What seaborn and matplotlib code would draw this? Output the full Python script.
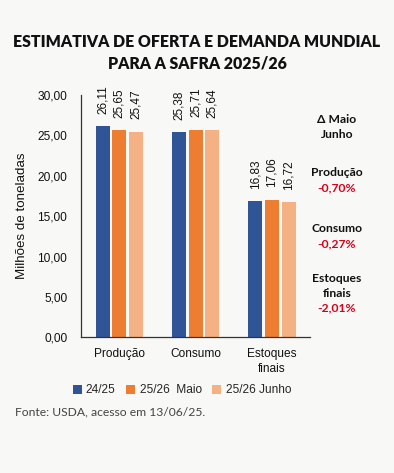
import pandas as pd
import matplotlib
matplotlib.use('Agg')
import matplotlib.pyplot as plt
import seaborn as sns

# dados (milhões de toneladas)
categorias = ['Produção', 'Consumo', 'Estoques\nfinais']
series = ['24/25', '25/26  Maio', '25/26 Junho']
v_2425 = [26.11, 25.38, 16.83]
v_maio = [25.65, 25.71, 17.06]
v_junho = [25.47, 25.64, 16.72]
variacao_nomes = ['Produção', 'Consumo', 'Estoques\nfinais']
variacao_vals = ['-0,70%', '-0,27%', '-2,01%']

cores = ['#2f5597', '#ed7d31', '#f4b183']
fundo = '#f8f8f6'

df = pd.DataFrame({
    'categoria': categorias * 3,
    'serie': [s for s in series for _ in categorias],
    'valor': v_2425 + v_maio + v_junho,
})

sns.set_theme(style='white')
plt.rcParams['font.family'] = ['Liberation Sans', 'DejaVu Sans']

fig = plt.figure(figsize=(3.94, 4.73), dpi=100, facecolor=fundo)
ax = fig.add_axes([0.206, 0.287, 0.581, 0.512])
ax.set_facecolor(fundo)

sns.barplot(data=df, x='categoria', y='valor', hue='serie', order=categorias,
            hue_order=series, palette=cores, width=0.655, gap=0.16,
            linewidth=0, saturation=1, ax=ax)

def fmt(v):
    return f'{v:.2f}'.replace('.', ',')

for cont in ax.containers:
    ax.bar_label(cont, labels=[fmt(b.get_height()) for b in cont], rotation=90,
                 padding=9, fontsize=8.5, color='#111111')

ax.set_ylim(0, 30)
ax.set_yticks([0, 5, 10, 15, 20, 25, 30])
ax.set_yticklabels([fmt(t) for t in [0, 5, 10, 15, 20, 25, 30]], fontsize=8.6)
ax.set_xlim(-0.5, 2.5)
ax.set_xticks([0, 1, 2])
ax.set_xticklabels(categorias, fontsize=8.6, linespacing=1.25)
ax.set_xticks([-0.5, 0.5, 1.5, 2.5], minor=True)
ax.tick_params(axis='x', which='major', length=0, pad=8, colors='#111111')
ax.tick_params(axis='x', which='minor', length=4, width=0.9, color='#333333', direction='out')
ax.tick_params(axis='y', length=4, width=0.9, color='#333333', direction='out', pad=6,
               labelcolor='#111111')
ax.set_xlabel('')
ax.set_ylabel('Milhões de toneladas', fontsize=9.6, labelpad=7, color='#111111')

for s in ['top', 'right']:
    ax.spines[s].set_visible(False)
for s in ['left', 'bottom']:
    ax.spines[s].set_color('#333333')
    ax.spines[s].set_linewidth(0.9)

leg = ax.legend(loc='upper center', bbox_to_anchor=(0.44, -0.175), ncol=3, frameon=False,
                fontsize=8.6, handlelength=0.75, handleheight=0.75, handletextpad=0.35,
                columnspacing=0.9, borderaxespad=0)

fig.text(0.5, 0.911, 'ESTIMATIVA DE OFERTA E DEMANDA MUNDIAL', ha='center', va='center',
         fontsize=11.4, fontweight='heavy', family='Lato', color='#111111')
fig.text(0.5, 0.866, 'PARA A SAFRA 2025/26', ha='center', va='center',
         fontsize=11.4, fontweight='heavy', family='Lato', color='#111111')

# coluna de variação Maio -> Junho
xc = 337 / 394
tam = 8.7
fig.text(xc, 1 - 127 / 473, 'Δ Maio\nJunho', ha='center', va='center', fontsize=tam,
         fontweight='bold', family='Lato', color='#111111', linespacing=1.4)
ys_nome = [173, 228, 286]
ys_val = [188, 244, 308]
for nome, val, yn, yv in zip(variacao_nomes, variacao_vals, ys_nome, ys_val):
    fig.text(xc, 1 - yn / 473, nome, ha='center', va='center', fontsize=tam,
             fontweight='bold', family='Lato', color='#111111', linespacing=1.4)
    fig.text(xc, 1 - yv / 473, val, ha='center', va='center', fontsize=tam,
             fontweight='bold', family='Lato', color='#d8001c')

fig.text(15 / 394, 1 - 412 / 473, 'Fonte: USDA, acesso em 13/06/25.', ha='left', va='center',
         fontsize=8.7, family='Lato', color='#444444')

fig.savefig('out.png', dpi=100, facecolor=fundo)
